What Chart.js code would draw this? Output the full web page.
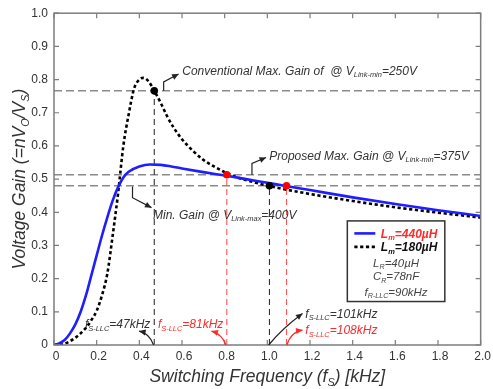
<!DOCTYPE html>
<html><head><meta charset="utf-8">
<script src="https://cdn.jsdelivr.net/npm/chart.js@4.4.0/dist/chart.umd.min.js"></script>
<style>html,body{margin:0;padding:0;background:#fff;overflow:hidden}canvas{display:block}</style>
</head><body>
<canvas id="c" width="493" height="389"></canvas>
<script>
// ---- data ----
const freqLm440 = [0, 0.02, 0.05, 0.075, 0.1, 0.125, 0.15, 0.175, 0.2, 0.225, 0.25, 0.275, 0.3, 0.325, 0.35, 0.4, 0.45, 0.5, 0.55, 0.6, 0.7, 0.81, 0.9, 1.0, 1.08, 1.2, 1.4, 1.6, 1.8, 2.0];
const gainLm440 = [0, 0.004, 0.015, 0.035, 0.062, 0.1, 0.15, 0.21, 0.27, 0.33, 0.385, 0.435, 0.475, 0.505, 0.522, 0.538, 0.544, 0.543, 0.538, 0.532, 0.521, 0.51, 0.5, 0.489, 0.48, 0.467, 0.445, 0.425, 0.406, 0.389];
const freqLm180 = [0, 0.05, 0.1, 0.15, 0.175, 0.2, 0.225, 0.25, 0.275, 0.3, 0.325, 0.35, 0.375, 0.4, 0.42, 0.445, 0.47, 0.5, 0.53, 0.56, 0.6, 0.65, 0.7, 0.75, 0.8, 0.85, 0.9, 1.01, 1.2, 1.4, 1.6, 1.8, 2.0];
const gainLm180 = [0, 0.004, 0.022, 0.052, 0.075, 0.103, 0.15, 0.215, 0.33, 0.455, 0.6, 0.695, 0.772, 0.8, 0.805, 0.793, 0.766, 0.73, 0.69, 0.656, 0.62, 0.586, 0.558, 0.538, 0.521, 0.507, 0.497, 0.479, 0.455, 0.434, 0.415, 0.399, 0.384];
const opFreq = [0.47, 0.81, 1.01, 1.09];
const opGain = [0.766, 0.513, 0.48, 0.48];
const gainLevels = [0.766, 0.513, 0.48];
const xTickValues = [0, 0.2, 0.4, 0.6, 0.8, 1.0, 1.2, 1.4, 1.6, 1.8, 2.0];
const yTickValues = [0, 0.1, 0.2, 0.3, 0.4, 0.5, 0.6, 0.7, 0.8, 0.9, 1.0];
const xRange = [0, 2];
const yRange = [0, 1];

// ---- styles ----
const FONT = "'Liberation Sans', Arial, sans-serif";
const BLUE = '#1e1eff';
const RED = '#ff2a2a';
const TXT = '#333333';
const BOX = '#7d7d7d';
const opColors = ['#333333', '#ff5555', '#333333', '#ff5555'];
const opDotColors = ['#000000', '#ff0000', '#000000', '#ff0000'];

const pts = (xs, ys) => xs.map((x, i) => ({x: x, y: ys[i]}));

const datasets = [];
opFreq.forEach((f, i) => datasets.push({
  data: [{x: f, y: opGain[i]}], showLine: false, pointRadius: 3.8, pointHoverRadius: 3.8,
  pointBackgroundColor: opDotColors[i], pointBorderWidth: 0, order: 0
}));
datasets.push({data: pts(freqLm440, gainLm440), showLine: true, borderColor: BLUE, borderWidth: 2.6,
  pointRadius: 0, cubicInterpolationMode: 'monotone', order: 1});
datasets.push({data: pts(freqLm180, gainLm180), showLine: true, borderColor: '#000', borderWidth: 2.6,
  borderDash: [3.2, 2.6], pointRadius: 0, cubicInterpolationMode: 'monotone', order: 2});
gainLevels.forEach(g => datasets.push({
  data: [{x: xRange[0], y: g}, {x: xRange[1], y: g}], showLine: true, borderColor: '#8a8a8a',
  borderWidth: 1.5, borderDash: [8, 4], pointRadius: 0, order: 5
}));
opFreq.forEach((f, i) => datasets.push({
  data: [{x: f, y: 0}, {x: f, y: opGain[i]}], showLine: true, borderColor: opColors[i],
  borderWidth: 1.1, borderDash: [6, 4], pointRadius: 0, order: 4
}));

// rich text with subscripts: parts = [[text, isSub], ...]
function rich(ctx, x, y, parts, size, opt) {
  opt = opt || {};
  const st = (opt.bold ? 'italic bold ' : 'italic ');
  const sub = size * 0.62;
  let w = 0;
  parts.forEach(p => { ctx.font = st + (p[1] ? sub : size) + 'px ' + FONT; w += ctx.measureText(p[0]).width; });
  let cx = opt.align === 'center' ? x - w / 2 : (opt.align === 'right' ? x - w : x);
  const base = y + size * 0.36;
  ctx.fillStyle = opt.color || TXT;
  ctx.textBaseline = 'alphabetic';
  ctx.textAlign = 'left';
  parts.forEach(p => {
    ctx.font = st + (p[1] ? sub : size) + 'px ' + FONT;
    ctx.fillText(p[0], cx, p[1] ? base + size * 0.22 : base);
    cx += ctx.measureText(p[0]).width;
  });
}
function arrowHead(ctx, x1, y1, x2, y2, color) {
  const a = Math.atan2(y2 - y1, x2 - x1), L = 6.5, W = 3;
  ctx.fillStyle = color;
  ctx.beginPath();
  ctx.moveTo(x2, y2);
  ctx.lineTo(x2 - L * Math.cos(a) + W * Math.sin(a), y2 - L * Math.sin(a) - W * Math.cos(a));
  ctx.lineTo(x2 - L * Math.cos(a) - W * Math.sin(a), y2 - L * Math.sin(a) + W * Math.cos(a));
  ctx.closePath(); ctx.fill();
}

const decor = {
  id: 'decor',
  afterDatasetsDraw(chart) {
    const ctx = chart.ctx, xs = chart.scales.x, ys = chart.scales.y, a = chart.chartArea;
    const P = (x, y) => [xs.getPixelForValue(x), ys.getPixelForValue(y)];
    ctx.save();
    // box and inward ticks
    ctx.strokeStyle = BOX; ctx.lineWidth = 1.5; ctx.setLineDash([]);
    ctx.strokeRect(a.left, a.top, a.right - a.left, a.bottom - a.top);
    ctx.lineWidth = 1.2;
    ctx.beginPath();
    xTickValues.forEach(v => { const px = xs.getPixelForValue(v);
      ctx.moveTo(px, a.bottom); ctx.lineTo(px, a.bottom - 5);
      ctx.moveTo(px, a.top); ctx.lineTo(px, a.top + 5); });
    yTickValues.forEach(v => { const py = ys.getPixelForValue(v);
      ctx.moveTo(a.left, py); ctx.lineTo(a.left + 5, py);
      ctx.moveTo(a.right, py); ctx.lineTo(a.right - 5, py); });
    ctx.stroke();

    // polyline arrows
    function poly(list, color) {
      const q = list.map(p => P(p[0], p[1]));
      ctx.strokeStyle = color; ctx.lineWidth = 1.2; ctx.setLineDash([]);
      ctx.beginPath(); ctx.moveTo(q[0][0], q[0][1]);
      for (let i = 1; i < q.length; i++) ctx.lineTo(q[i][0], q[i][1]);
      ctx.stroke();
      const n = q.length;
      arrowHead(ctx, q[n - 2][0], q[n - 2][1], q[n - 1][0], q[n - 1][1], color);
    }
    function curve(s, c, e, color) {
      const S = P(s[0], s[1]), C = P(c[0], c[1]), E = P(e[0], e[1]);
      ctx.strokeStyle = color; ctx.lineWidth = 1.2; ctx.setLineDash([]);
      ctx.beginPath(); ctx.moveTo(S[0], S[1]); ctx.quadraticCurveTo(C[0], C[1], E[0], E[1]); ctx.stroke();
      arrowHead(ctx, C[0], C[1], E[0], E[1], color);
    }
    poly([[0.514, 0.766], [0.514, 0.793], [0.584, 0.817]], '#222');
    poly([[0.928, 0.513], [0.928, 0.547], [0.994, 0.565]], '#222');
    poly([[0.368, 0.478], [0.368, 0.444], [0.457, 0.414]], '#222');
    curve([0.467, 0], [0.448, 0.035], [0.399, 0.042], '#222');
    curve([0.806, 0], [0.787, 0.033], [0.738, 0.042], RED);
    curve([1.006, 0], [1.07, 0.05], [1.165, 0.095], '#222');
    curve([1.092, 0], [1.11, 0.04], [1.165, 0.045], RED);

    // annotation texts
    let t = P(0.601, 0.828);
    rich(ctx, t[0], t[1], [['Conventional Max. Gain of  @ V'], ['Link-min', 1], ['=250V']], 12);
    t = P(1.009, 0.572);
    rich(ctx, t[0], t[1], [['Proposed Max. Gain @ V'], ['Link-min', 1], ['=375V']], 12);
    t = P(0.464, 0.394);
    rich(ctx, t[0], t[1], [['Min. Gain @ V'], ['Link-max', 1], ['=400V']], 12);
    t = P(0.145, 0.064);
    rich(ctx, t[0], t[1], [['f'], ['S-LLC', 1], ['=47kHz']], 12);
    t = P(0.487, 0.064);
    rich(ctx, t[0], t[1], [['f'], ['S-LLC', 1], ['=81kHz']], 12, {color: RED});
    t = P(1.178, 0.0956);
    rich(ctx, t[0], t[1], [['f'], ['S-LLC', 1], ['=101kHz']], 12);
    t = P(1.178, 0.046);
    rich(ctx, t[0], t[1], [['f'], ['S-LLC', 1], ['=108kHz']], 12, {color: RED});

    // legend box
    const b1 = P(1.375, 0.374), b2 = P(1.832, 0.131);
    ctx.fillStyle = '#fff'; ctx.fillRect(b1[0], b1[1], b2[0] - b1[0], b2[1] - b1[1]);
    ctx.strokeStyle = '#333'; ctx.lineWidth = 1.5; ctx.setLineDash([]);
    ctx.strokeRect(b1[0], b1[1], b2[0] - b1[0], b2[1] - b1[1]);
    const lx0 = b1[0] + 7, lx1 = b1[0] + 28, tx = b1[0] + 33.5, cxm = (b1[0] + b2[0]) / 2;
    const r1 = b1[1] + 12.5, r2 = b1[1] + 26;
    ctx.strokeStyle = BLUE; ctx.lineWidth = 2.6;
    ctx.beginPath(); ctx.moveTo(lx0, r1); ctx.lineTo(lx1, r1); ctx.stroke();
    ctx.strokeStyle = '#000'; ctx.setLineDash([3.2, 2.6]);
    ctx.beginPath(); ctx.moveTo(lx0, r2); ctx.lineTo(lx1, r2); ctx.stroke();
    ctx.setLineDash([]);
    rich(ctx, tx, r1, [['L'], ['m', 1], ['=440µH']], 12, {bold: true, color: RED});
    rich(ctx, tx, r2, [['L'], ['m', 1], ['=180µH']], 12, {bold: true, color: '#111'});
    rich(ctx, cxm, b1[1] + 41.5, [['L'], ['R', 1], ['=40µH']], 11.5, {align: 'center', color: '#444'});
    rich(ctx, cxm, b1[1] + 55, [['C'], ['R', 1], ['=78nF']], 11.5, {align: 'center', color: '#444'});
    rich(ctx, cxm, b1[1] + 70.5, [['f'], ['R-LLC', 1], ['=90kHz']], 11.5, {align: 'center', color: '#444'});

    // axis titles
    rich(ctx, (a.left + a.right) / 2, 376, [['Switching Frequency (f'], ['S', 1], [') [kHz]']], 17.5, {align: 'center', color: TXT});
    ctx.save();
    ctx.translate(19, (a.top + a.bottom) / 2);
    ctx.rotate(-Math.PI / 2);
    rich(ctx, 0, 0, [['Voltage Gain (=nV'], ['O', 1], ['/V'], ['S', 1], [')']], 17.5, {align: 'center', color: TXT});
    ctx.restore();
    ctx.restore();
  }
};

const fmt = v => (Math.abs(v) < 1e-9 ? '0' : v.toFixed(1));
new Chart(document.getElementById('c').getContext('2d'), {
  type: 'scatter',
  data: {datasets: datasets},
  options: {
    responsive: false, animation: false, events: [],
    layout: {padding: {top: 7, right: 11, left: 0, bottom: 0}},
    plugins: {legend: {display: false}, tooltip: {enabled: false}},
    scales: {
      x: {type: 'linear', min: xRange[0], max: xRange[1],
        afterFit: s => { s.height = 44; },
        afterBuildTicks: s => { s.ticks = xTickValues.map(v => ({value: v})); },
        grid: {display: false, drawTicks: false}, border: {display: false},
        ticks: {padding: 4, color: TXT, font: {family: FONT, size: 12}, callback: fmt, maxRotation: 0, autoSkip: false, labelOffset: 2}},
      y: {type: 'linear', min: yRange[0], max: yRange[1],
        afterFit: s => { s.width = 54; },
        afterBuildTicks: s => { s.ticks = yTickValues.map(v => ({value: v})); },
        grid: {display: false, drawTicks: false}, border: {display: false},
        ticks: {padding: 6, color: TXT, font: {family: FONT, size: 12}, callback: fmt, autoSkip: false}}
    }
  },
  plugins: [decor]
});
</script>
</body></html>
